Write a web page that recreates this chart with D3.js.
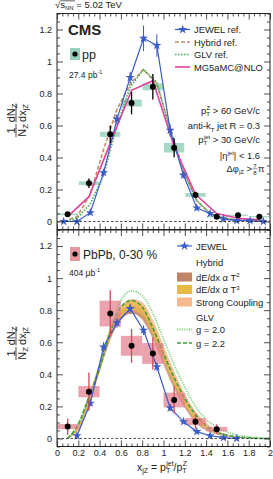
<!DOCTYPE html>
<html><head><meta charset="utf-8">
<script src="https://cdn.jsdelivr.net/npm/d3@7"></script>
<style>body{margin:0;background:#fff;} svg{display:block;font-family:"Liberation Sans",Arial,Helvetica,sans-serif;}</style>
</head><body><svg id="c" width="273" height="479"></svg>
<script>
// ---------- DATA ----------
const xTicks = [0,0.2,0.4,0.6,0.8,1,1.2,1.4,1.6,1.8,2];
const xTickLabels = ["0","0.2","0.4","0.6","0.8","1","1.2","1.4","1.6","1.8","2"];
const yTicks = [0,0.2,0.4,0.6,0.8,1,1.2];
const yTickLabels = ["0","0.2","0.4","0.6","0.8","1","1.2"];

// pp data (top)
const ppX = [0.1,0.3,0.5,0.7,0.9,1.1,1.3,1.5,1.7,1.9];
const ppY = [0.045,0.239,0.545,0.74,0.842,0.461,0.166,0.03,0.039,0.03];
const ppStat = [0.012,0.03,0.055,0.07,0.08,0.06,0.02,0.006,0.006,0.006];
const ppSys = [0.005,0.012,0.016,0.022,0.022,0.03,0.012,0.004,0.004,0.004];

// top-panel models
const refX = [0.0625,0.1875,0.3125,0.4375,0.5625,0.6875,0.8125,0.9375,1.0625,1.1875,1.3125,1.4375,1.5625,1.6875,1.8125,1.9375];
const jewelRefY = [0.0,0.0,0.055,0.305,0.64,0.9,1.145,1.10,0.57,0.29,0.085,0.05,0.015,0.005,0.005,0.0];
const jewelRefErr = [0.004,0.004,0.01,0.02,0.03,0.035,0.08,0.07,0.04,0.02,0.015,0.01,0.005,0.005,0.005,0.003];
const hybridRefY = [0.0,0.03,0.17,0.45,0.70,0.86,0.95,0.86,0.58,0.32,0.13,0.05,0.02,0.01,0.005,0.0];
const glvRefY = [0.0,0.02,0.11,0.29,0.60,0.84,0.95,0.87,0.57,0.31,0.13,0.05,0.02,0.01,0.005,0.0];
const mgX = [0.1,0.3,0.5,0.7,0.9,1.1,1.3,1.5,1.7,1.9];
const mgY = [0.03,0.155,0.49,0.82,0.88,0.47,0.17,0.05,0.02,0.01];

// PbPb data (bottom)
const pbX = [0.1,0.3,0.5,0.7,0.9,1.1,1.3,1.5];
const pbY = [0.074,0.292,0.779,0.578,0.53,0.24,0.105,0.058];
const pbStat = [0.05,0.12,0.145,0.105,0.1,0.085,0.045,0.03];
const pbSys = [0.016,0.035,0.08,0.062,0.065,0.046,0.022,0.014];

// bottom-panel models
const jewelX = [0.1875,0.3125,0.4375,0.5625,0.6875,0.8125,0.9375,1.0625,1.1875,1.3125,1.4375,1.5625,1.6875];
const jewelY = [0.017,0.22,0.57,0.72,0.81,0.675,0.447,0.19,0.105,0.043,0.017,0.005,0.0];
const jewelErr = [0.01,0.02,0.03,0.03,0.03,0.03,0.025,0.02,0.01,0.01,0.005,0.005,0.003];
const curveX = [0.1,0.2,0.3,0.4,0.5,0.6,0.7,0.8,0.9,1.0,1.1,1.2,1.3,1.4,1.5,1.6,1.7,1.8,1.9,2.0];
const glv20Y = [0.0,0.09,0.26,0.44,0.68,0.86,0.92,0.89,0.78,0.62,0.46,0.32,0.20,0.12,0.07,0.04,0.02,0.01,0.005,0.0];
const glv22Y = [0.0,0.09,0.26,0.44,0.66,0.82,0.86,0.82,0.69,0.53,0.38,0.25,0.15,0.08,0.04,0.02,0.01,0.005,0.0,0.0];
const t2Lo = [0,0.06,0.22,0.42,0.62,0.74,0.78,0.74,0.62,0.46,0.31,0.19,0.10,0.05,0.025,0.012,0.005,0.002,0.001,0];
const t2Hi = [0,0.08,0.25,0.46,0.67,0.79,0.83,0.80,0.68,0.52,0.36,0.23,0.13,0.07,0.035,0.017,0.008,0.004,0.002,0];
const t3Lo = [0,0.06,0.22,0.43,0.63,0.76,0.80,0.77,0.65,0.49,0.34,0.21,0.12,0.06,0.03,0.015,0.007,0.003,0.001,0];
const t3Hi = [0,0.08,0.26,0.47,0.68,0.81,0.86,0.83,0.71,0.55,0.39,0.25,0.15,0.08,0.04,0.02,0.01,0.005,0.002,0];
const scLo = [0,0.05,0.20,0.41,0.61,0.74,0.78,0.75,0.64,0.49,0.34,0.22,0.13,0.07,0.035,0.017,0.008,0.004,0.002,0];
const scHi = [0,0.08,0.26,0.48,0.69,0.82,0.87,0.85,0.74,0.58,0.42,0.28,0.17,0.10,0.05,0.025,0.012,0.006,0.003,0];

// ---------- STYLE ----------
const C = {
  jewel:"#3a5bc8", hybrid:"#c98a64", glv:"#3fae4f", mg:"#e0449c",
  ppBox:"#96d2bc", pbBox:"#e27e8a", pbErr:"#d0485a",
  t2:"#bf8566", t3:"#e9b948", sc:"#f6b88c", g20:"#7fd47f", g22:"#3e9e3e"
};
const svg = d3.select("#c");
const X0 = 57, X1 = 270;
const x = d3.scaleLinear().domain([0,2]).range([X0,X1]);
const yTop = d3.scaleLinear().domain([-0.05,1.3]).range([229.5,13.5]);
const yBot = d3.scaleLinear().domain([-0.05,1.3]).range([446.5,230]);
const fs = 9.4;   // legend / annotation font
const tfs = 9;    // tick label font

function zip(xs, ys){ return xs.map((v,i)=>[v,ys[i]]); }

function frame(y, showLabels){
  const g = svg.append("g");
  const yt = y.range()[1], yb = y.range()[0];
  const xMinor = d3.range(0,2.0001,0.05).filter(v=>Math.abs(v/0.2-Math.round(v/0.2))>1e-6);
  const yMinor = d3.range(-0.05,1.3001,0.05).filter(v=>Math.abs(v/0.2-Math.round(v/0.2))>1e-6);
  g.append("line").attr("x1",X0).attr("x2",X1).attr("y1",y(0)).attr("y2",y(0))
    .attr("stroke","#222").attr("stroke-width",0.8).attr("stroke-dasharray","2.5,2");
  const ax = [];
  ax.push(g.append("g").attr("transform",`translate(0,${yb})`).call(d3.axisBottom(x).tickValues(xTicks).tickSize(-6).tickPadding(3).tickFormat((d,i)=>showLabels?xTickLabels[i]:"")));
  ax.push(g.append("g").attr("transform",`translate(0,${yb})`).call(d3.axisBottom(x).tickValues(xMinor).tickSize(-3).tickFormat("")));
  ax.push(g.append("g").attr("transform",`translate(0,${yt})`).call(d3.axisTop(x).tickValues(xTicks).tickSize(-6).tickFormat("")));
  ax.push(g.append("g").attr("transform",`translate(0,${yt})`).call(d3.axisTop(x).tickValues(xMinor).tickSize(-3).tickFormat("")));
  ax.push(g.append("g").attr("transform",`translate(${X0},0)`).call(d3.axisLeft(y).tickValues(yTicks).tickSize(-6).tickPadding(5).tickFormat((d,i)=>yTickLabels[i])));
  ax.push(g.append("g").attr("transform",`translate(${X0},0)`).call(d3.axisLeft(y).tickValues(yMinor).tickSize(-3).tickFormat("")));
  ax.push(g.append("g").attr("transform",`translate(${X1},0)`).call(d3.axisRight(y).tickValues(yTicks).tickSize(-6).tickFormat("")));
  ax.push(g.append("g").attr("transform",`translate(${X1},0)`).call(d3.axisRight(y).tickValues(yMinor).tickSize(-3).tickFormat("")));
  ax.forEach(a=>{
    a.select(".domain").remove();
    a.selectAll("line").attr("stroke","#222").attr("stroke-width",0.8);
    a.selectAll("text").attr("font-size",tfs).attr("fill","#222").attr("font-family","Liberation Sans, Arial, sans-serif");
  });
  g.append("rect").attr("x",X0).attr("y",yt).attr("width",X1-X0).attr("height",yb-yt)
    .attr("fill","none").attr("stroke","#222").attr("stroke-width",1);
}

function stars(g, pts, color){
  g.selectAll(null).data(pts).enter().append("path")
    .attr("d", d3.symbol().type(d3.symbolStar).size(26)())
    .attr("transform", d=>`translate(${d[0]},${d[1]})`)
    .attr("fill", color);
}

// ---------- TOP PANEL ----------
svg.append("clipPath").attr("id","clipT").append("rect").attr("x",X0).attr("y",13.5).attr("width",X1-X0).attr("height",216);
const tp = svg.append("g").attr("clip-path","url(#clipT)");
tp.selectAll(null).data(ppX).enter().append("rect")
  .attr("x",d=>x(d-0.095)).attr("width",x(0.19)-x(0))
  .attr("y",(d,i)=>yTop(ppY[i]+ppSys[i])).attr("height",(d,i)=>yTop(ppY[i]-ppSys[i])-yTop(ppY[i]+ppSys[i]))
  .attr("fill",C.ppBox).attr("opacity",0.85);
const lineT = d3.line().x(d=>x(d[0])).y(d=>yTop(d[1]));
tp.append("path").attr("d",lineT(zip(refX,hybridRefY))).attr("fill","none").attr("stroke",C.hybrid).attr("stroke-width",1.6).attr("stroke-dasharray","4,2");
tp.append("path").attr("d",lineT(zip(refX,glvRefY))).attr("fill","none").attr("stroke",C.glv).attr("stroke-width",1.6).attr("stroke-dasharray","1.5,1.5");
tp.append("path").attr("d",lineT(zip(mgX,mgY))).attr("fill","none").attr("stroke",C.mg).attr("stroke-width",1.6);
tp.append("path").attr("d",lineT(zip(refX,jewelRefY))).attr("fill","none").attr("stroke",C.jewel).attr("stroke-width",1.2);
tp.selectAll(null).data(refX).enter().append("line")
  .attr("x1",d=>x(d)).attr("x2",d=>x(d))
  .attr("y1",(d,i)=>yTop(jewelRefY[i]-jewelRefErr[i])).attr("y2",(d,i)=>yTop(jewelRefY[i]+jewelRefErr[i]))
  .attr("stroke",C.jewel).attr("stroke-width",1);
stars(tp, refX.map((d,i)=>[x(d),yTop(jewelRefY[i])]), C.jewel);
tp.selectAll(null).data(ppX).enter().append("line")
  .attr("x1",d=>x(d)).attr("x2",d=>x(d))
  .attr("y1",(d,i)=>yTop(ppY[i]-ppStat[i])).attr("y2",(d,i)=>yTop(ppY[i]+ppStat[i]))
  .attr("stroke","#000").attr("stroke-width",1.3);
tp.selectAll(null).data(ppX).enter().append("circle")
  .attr("cx",d=>x(d)).attr("cy",(d,i)=>yTop(ppY[i])).attr("r",3).attr("fill","#000");
frame(yTop,false);

// ---------- BOTTOM PANEL ----------
svg.append("clipPath").attr("id","clipB").append("rect").attr("x",X0).attr("y",230).attr("width",X1-X0).attr("height",216.5);
const bp = svg.append("g").attr("clip-path","url(#clipB)");
const area = (lo,hi)=>d3.area().x((d,i)=>x(curveX[i])).y0((d,i)=>yBot(lo[i])).y1((d,i)=>yBot(hi[i])).curve(d3.curveMonotoneX)(curveX);
bp.append("path").attr("d",area(scLo,scHi)).attr("fill",C.sc).attr("opacity",0.85);
bp.append("path").attr("d",area(t2Lo,t2Hi)).attr("fill",C.t2).attr("opacity",0.75);
bp.append("path").attr("d",area(t3Lo,t3Hi)).attr("fill",C.t3).attr("opacity",0.75);
const lineB = d3.line().x(d=>x(d[0])).y(d=>yBot(d[1])).curve(d3.curveMonotoneX);
bp.append("path").attr("d",lineB(zip(curveX,glv20Y))).attr("fill","none").attr("stroke",C.g20).attr("stroke-width",1.8).attr("stroke-dasharray","1.2,1.2");
bp.append("path").attr("d",lineB(zip(curveX,glv22Y))).attr("fill","none").attr("stroke",C.g22).attr("stroke-width",1.6).attr("stroke-dasharray","4,2");
bp.selectAll(null).data(pbX).enter().append("rect")
  .attr("x",d=>x(d-0.1)).attr("width",x(0.2)-x(0))
  .attr("y",(d,i)=>yBot(pbY[i]+pbSys[i])).attr("height",(d,i)=>yBot(pbY[i]-pbSys[i])-yBot(pbY[i]+pbSys[i]))
  .attr("fill",C.pbBox).attr("opacity",0.7);
const lineJ = d3.line().x(d=>x(d[0])).y(d=>yBot(d[1]));
bp.append("path").attr("d",lineJ(zip(jewelX,jewelY))).attr("fill","none").attr("stroke",C.jewel).attr("stroke-width",1.2);
bp.selectAll(null).data(jewelX).enter().append("line")
  .attr("x1",d=>x(d)).attr("x2",d=>x(d))
  .attr("y1",(d,i)=>yBot(jewelY[i]-jewelErr[i])).attr("y2",(d,i)=>yBot(jewelY[i]+jewelErr[i]))
  .attr("stroke",C.jewel).attr("stroke-width",1);
stars(bp, jewelX.map((d,i)=>[x(d),yBot(jewelY[i])]), C.jewel);
bp.selectAll(null).data(pbX).enter().append("line")
  .attr("x1",d=>x(d)).attr("x2",d=>x(d))
  .attr("y1",(d,i)=>yBot(pbY[i]-pbStat[i])).attr("y2",(d,i)=>yBot(pbY[i]+pbStat[i]))
  .attr("stroke",C.pbErr).attr("stroke-width",1.3);
bp.selectAll(null).data(pbX).enter().append("circle")
  .attr("cx",d=>x(d)).attr("cy",(d,i)=>yBot(pbY[i])).attr("r",3).attr("fill","#000");
frame(yBot,true);

// ---------- TEXT / LEGENDS ----------
const T = svg.append("g").attr("fill","#222");
const st = T.append("text").attr("x",55).attr("y",7.5).attr("font-size",9.5);
st.append("tspan").text("\u221A");
st.append("tspan").text("s");
st.append("tspan").attr("font-size",6).attr("dy",2).text("NN");
st.append("tspan").attr("dy",-2).text(" = 5.02 TeV");
T.append("line").attr("x1",60.5).attr("x2",75).attr("y1",0.8).attr("y2",0.8).attr("stroke","#222").attr("stroke-width",0.7);

T.append("text").attr("x",68).attr("y",35).attr("font-size",15).attr("font-weight","bold").text("CMS");
T.append("rect").attr("x",70).attr("y",48).attr("width",10).attr("height",12).attr("fill",C.ppBox);
T.append("circle").attr("cx",75).attr("cy",54).attr("r",2.6).attr("fill","#000");
T.append("text").attr("x",82).attr("y",58.5).attr("font-size",12.5).text("pp");
const lum1 = T.append("text").attr("x",69).attr("y",77.5).attr("font-size",8.5);
lum1.append("tspan").text("27.4 pb");
lum1.append("tspan").attr("font-size",5.5).attr("dy",-3.5).text("-1");

const legTop = [
  {label:"JEWEL ref.", color:C.jewel, dash:null, star:true, y:29.5},
  {label:"Hybrid ref.", color:C.hybrid, dash:"4,2", y:42},
  {label:"GLV ref.", color:C.glv, dash:"1.5,1.5", y:54.5},
  {label:"MG5aMC@NLO", color:C.mg, dash:null, y:67}
];
legTop.forEach(l=>{
  T.append("line").attr("x1",175).attr("x2",190).attr("y1",l.y).attr("y2",l.y)
    .attr("stroke",l.color).attr("stroke-width",l.star?1.2:1.6).attr("stroke-dasharray",l.dash);
  if(l.star) stars(T,[[182.7,l.y]],l.color);
  T.append("text").attr("x",194).attr("y",l.y+3.5).attr("font-size",fs).text(l.label);
});

const R = 260;
let t1 = T.append("text").attr("x",R).attr("y",113.5).attr("font-size",fs).attr("text-anchor","end");
t1.append("tspan").text("p"); t1.append("tspan").attr("font-size",6).attr("dy",2.5).text("T");
t1.append("tspan").attr("font-size",6).attr("dx",-3.3).attr("dy",-6.5).text("Z");
t1.append("tspan").attr("dy",4).text(" > 60 GeV/c");
let t2 = T.append("text").attr("x",R).attr("y",129).attr("font-size",fs).attr("text-anchor","end");
t2.append("tspan").text("anti-k"); t2.append("tspan").attr("font-size",6).attr("dy",2.5).text("T");
t2.append("tspan").attr("dy",-2.5).text(" jet R = 0.3");
let t3 = T.append("text").attr("x",R).attr("y",142.5).attr("font-size",fs).attr("text-anchor","end");
t3.append("tspan").text("p"); t3.append("tspan").attr("font-size",6).attr("dy",2.5).text("T");
t3.append("tspan").attr("font-size",6).attr("dx",-3.3).attr("dy",-6.5).text("jet");
t3.append("tspan").attr("dy",4).text(" > 30 GeV/c");
let t4 = T.append("text").attr("x",R).attr("y",158.5).attr("font-size",fs).attr("text-anchor","end");
t4.append("tspan").text("|\u03B7"); t4.append("tspan").attr("font-size",6).attr("dy",-3.5).text("jet");
t4.append("tspan").attr("dy",3.5).text("| < 1.6");
let t5 = T.append("text").attr("x",R-8).attr("y",171.5).attr("font-size",fs).attr("text-anchor","end");
t5.append("tspan").text("\u0394\u03C6"); t5.append("tspan").attr("font-size",6).attr("dy",2.5).text("jZ");
t5.append("tspan").attr("dy",-2.5).text(" >");
T.append("text").attr("x",R-5).attr("y",167.5).attr("font-size",6).attr("text-anchor","middle").text("7");
T.append("line").attr("x1",R-7.5).attr("x2",R-2.5).attr("y1",168.8).attr("y2",168.8).attr("stroke","#222").attr("stroke-width",0.5);
T.append("text").attr("x",R-5).attr("y",174.5).attr("font-size",6).attr("text-anchor","middle").text("8");
T.append("text").attr("x",R-2).attr("y",171.5).attr("font-size",fs).text("\u03C0");

T.append("rect").attr("x",70).attr("y",247).attr("width",10).attr("height",14).attr("fill",C.pbBox).attr("opacity",0.8);
T.append("circle").attr("cx",75).attr("cy",254).attr("r",2.6).attr("fill","#000");
T.append("text").attr("x",83).attr("y",258.5).attr("font-size",12).text("PbPb, 0-30 %");
const lum2 = T.append("text").attr("x",69).attr("y",275.5).attr("font-size",8.5);
lum2.append("tspan").text("404 \u03BCb");
lum2.append("tspan").attr("font-size",5.5).attr("dy",-3.5).text("-1");

T.append("line").attr("x1",177).attr("x2",192).attr("y1",246).attr("y2",246).attr("stroke",C.jewel).attr("stroke-width",1.2);
stars(T,[[184.5,246]],C.jewel);
T.append("text").attr("x",196).attr("y",249.5).attr("font-size",fs).text("JEWEL");
T.append("text").attr("x",196).attr("y",266).attr("font-size",fs).text("Hybrid");
const boxes = [
  {c:C.t2, y:277, parts:["dE/dx \u03B1 T","2"]},
  {c:C.t3, y:289.5, parts:["dE/dx \u03B1 T","3"]},
  {c:C.sc, y:302, parts:["Strong Coupling",null]}
];
boxes.forEach(b=>{
  T.append("rect").attr("x",177).attr("y",b.y-4.5).attr("width",15).attr("height",9).attr("fill",b.c);
  const tt = T.append("text").attr("x",196).attr("y",b.y+3.5).attr("font-size",fs);
  tt.append("tspan").text(b.parts[0]);
  if(b.parts[1]) tt.append("tspan").attr("font-size",6).attr("dy",-3.5).text(b.parts[1]);
});
T.append("text").attr("x",196).attr("y",321).attr("font-size",fs).text("GLV");
T.append("line").attr("x1",177).attr("x2",192).attr("y1",329.5).attr("y2",329.5).attr("stroke",C.g20).attr("stroke-width",1.8).attr("stroke-dasharray","1.2,1.2");
T.append("text").attr("x",196).attr("y",333).attr("font-size",fs).text("g = 2.0");
T.append("line").attr("x1",177).attr("x2",192).attr("y1",343).attr("y2",343).attr("stroke",C.g22).attr("stroke-width",1.6).attr("stroke-dasharray","4,2");
T.append("text").attr("x",196).attr("y",346.5).attr("font-size",fs).text("g = 2.2");

function yTitle(cx, cy){
  const g = T.append("g").attr("transform",`translate(${cx},${cy}) rotate(-90)`);
  const f = 11, fsub = 7.5;
  g.append("text").attr("x",-10).attr("y",-1.5).attr("font-size",f).attr("text-anchor","middle").text("1");
  const d1 = g.append("text").attr("x",-10).attr("y",9.5).attr("font-size",f).attr("text-anchor","middle");
  d1.append("tspan").text("N"); d1.append("tspan").attr("font-size",fsub).attr("dy",2).text("Z");
  g.append("line").attr("x1",-16.5).attr("x2",-3.5).attr("y1",0).attr("y2",0).attr("stroke","#222").attr("stroke-width",0.8);
  const n2 = g.append("text").attr("x",7.5).attr("y",-1.5).attr("font-size",f).attr("text-anchor","middle");
  n2.append("tspan").text("dN"); n2.append("tspan").attr("font-size",fsub).attr("dy",2).text("Z");
  const d2 = g.append("text").attr("x",7.5).attr("y",9.5).attr("font-size",f).attr("text-anchor","middle");
  d2.append("tspan").text("dx"); d2.append("tspan").attr("font-size",fsub).attr("dy",2).text("jZ");
  g.append("line").attr("x1",-2).attr("x2",17).attr("y1",0).attr("y2",0).attr("stroke","#222").attr("stroke-width",0.8);
}
yTitle(16,120.5);
yTitle(16,343.5);

const xt = T.append("text").attr("x",137).attr("y",470.5).attr("font-size",10.5);
xt.append("tspan").text("x");
xt.append("tspan").attr("font-size",7).attr("dy",2.5).text("jZ");
xt.append("tspan").attr("dy",-2.5).text(" = p");
xt.append("tspan").attr("font-size",7).attr("dy",2.5).text("T");
xt.append("tspan").attr("font-size",7).attr("dx",-4).attr("dy",-7).text("jet");
xt.append("tspan").attr("dy",4.5).text("/p");
xt.append("tspan").attr("font-size",7).attr("dy",2.5).text("T");
xt.append("tspan").attr("font-size",7).attr("dx",-4).attr("dy",-7).text("Z");
</script></body></html>
